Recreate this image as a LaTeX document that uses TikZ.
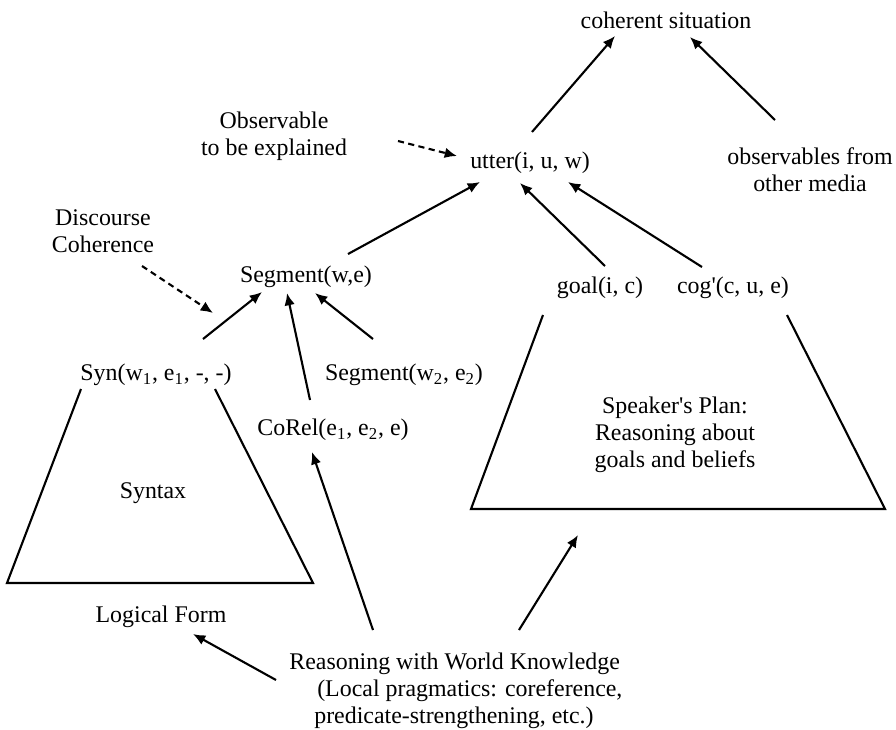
\documentclass[tikz,border=0pt]{standalone}
\usepackage{fontspec}
\setmainfont{Liberation Serif}
\usetikzlibrary{arrows.meta}
\tikzset{arr/.style={line width=1.2pt,-{Latex[length=7pt,width=6pt]}},
  dasharr/.style={arr,dash pattern=on 3.5pt off 2.5pt},
  lbl/.style={inner sep=0pt,align=center,font=\fontsize{13.6}{15.3}\selectfont},
  trap/.style={line width=1.2pt,line join=miter}}
\newcommand{\sub}[1]{\textsubscript{#1}}

\begin{document}
\begin{tikzpicture}[x=0.02cm,y=-0.02cm]
  \useasboundingbox (0,0) rectangle (896,730);

  \node [lbl] (coh) at (666,20) {coherent situation};
  \node [lbl] (obs) at (274,136) {Observable\\to be explained};
  \node [lbl] (utter) at (530,163) {utter(i, u, w)};
  \node [lbl] (media) at (810,170) {observables from\\other media};
  \node [lbl] (disc) at (103,231) {Discourse\\Coherence};
  \node [lbl] (seg) at (306,277) {Segment(w,e)};
  \node [lbl] (goal) at (600,288) {goal(i, c)};
  \node [lbl] (cog) at (733,288) {cog\textquotesingle(c, u, e)};
  \node [lbl] (syn) at (156,375) {Syn(w\sub{1}, e\sub{1}, -, -)};
  \node [lbl] (seg2) at (404,375) {Segment(w\sub{2}, e\sub{2})};
  \node [lbl] (corel) at (333,430) {CoRel(e\sub{1}, e\sub{2}, e)};
  \node [lbl] (syntax) at (153,493) {Syntax};
  \node [lbl] (plan) at (675,435) {Speaker\textquotesingle s Plan:\\Reasoning about\\goals and beliefs};
  \node [lbl] (lf) at (161,617) {Logical Form};
  \node [lbl,align=left,anchor=west] (world) at (289,691) {Reasoning with World Knowledge\\
    \hspace*{15.9pt}(Local pragmatics: coreference,\\
    \hspace*{14.2pt}predicate-strengthening, etc.)};

  \draw [trap] (81,389) -- (7,583) -- (313,583) -- (215,389);
  \draw [trap] (543,315) -- (471,509) -- (885,509) -- (787,315);

  \draw [dasharr] ([shift={(124,5)}]obs.center) -- ([shift={(-73,-7)}]utter.center);
  \draw [arr] ([shift={(2,-31)}]utter.center) -- ([shift={(-51,16)}]coh.center);
  \draw [arr] ([shift={(-35,-50)}]media.center) -- ([shift={(24,17)}]coh.center);
  \draw [arr] ([shift={(42,-23)}]seg.center) -- ([shift={(-50,19)}]utter.center);
  \draw [arr] ([shift={(5,-22)}]goal.center) -- ([shift={(-10,20)}]utter.center);
  \draw [arr] ([shift={(-31,-21)}]cog.center) -- ([shift={(38,19)}]utter.center);
  \draw [dasharr] ([shift={(39,35)}]disc.center) -- ([shift={(-93,36)}]seg.center);
  \draw [arr] ([shift={(47,-36)}]syn.center) -- ([shift={(-44,15)}]seg.center);
  \draw [arr] ([shift={(-23,-30)}]corel.center) -- ([shift={(-19,16)}]seg.center);
  \draw [arr] ([shift={(-31,-36)}]seg2.center) -- ([shift={(9,16)}]seg.center);
  \draw [arr] ([shift={(84,-61)}]world.west) -- ([shift={(-21,22)}]corel.center);
  \draw [arr] ([shift={(230,-61)}]world.west) -- ([shift={(-97,100)}]plan.center);
  \draw [arr] ([shift={(-13,-11)}]world.west) -- ([shift={(32,17)}]lf.center);
\end{tikzpicture}
\end{document}
